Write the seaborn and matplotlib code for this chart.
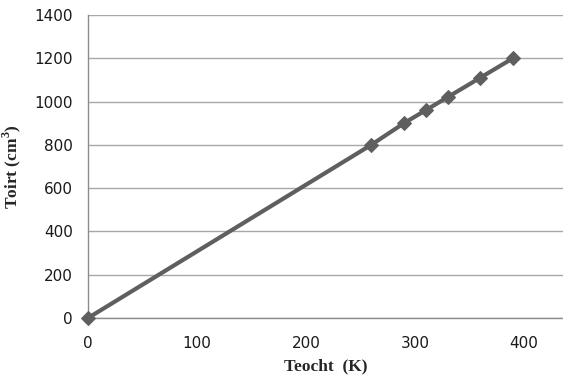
import pandas as pd
import seaborn as sns
import matplotlib.pyplot as plt

teocht = [0, 260, 290, 310, 330, 360, 390]
toirt = [0, 800, 900, 960, 1020, 1110, 1200]
x_ticks = [0, 100, 200, 300, 400]
y_ticks = [0, 200, 400, 600, 800, 1000, 1200, 1400]

df = pd.DataFrame({"Teocht": teocht, "Toirt": toirt})

sns.set_style("white")
plt.rcParams['font.family'] = ['DejaVu Sans']
plt.rcParams['mathtext.fontset'] = 'custom'
plt.rcParams['mathtext.rm'] = 'Liberation Serif'
plt.rcParams['mathtext.bf'] = 'Liberation Serif:bold'

fig = plt.figure(figsize=(5.63, 3.85), dpi=100)
ax = fig.add_axes([88 / 563, 1 - 318 / 385, 1 - 88 / 563, (318 - 15) / 385])

sns.lineplot(x="Teocht", y="Toirt", data=df, ax=ax, color="#5f5f5f",
             linewidth=3, marker="D", markersize=7, markeredgecolor="#5f5f5f",
             zorder=3, clip_on=False)

ax.set_xlim(0, 436)
ax.set_ylim(0, 1400)
ax.set_xticks(x_ticks)
ax.set_yticks(y_ticks)
ax.yaxis.grid(True, color="#a8a8a8", linewidth=1)
ax.xaxis.grid(False)
for s in ["top", "right"]:
    ax.spines[s].set_visible(False)
for s in ["left", "bottom"]:
    ax.spines[s].set_color("#8c8c8c")
    ax.spines[s].set_linewidth(1)
ax.tick_params(axis="both", direction="out", length=5, color="#8c8c8c",
               labelsize=11, labelcolor="#1a1a1a")
ax.tick_params(axis="x", pad=8)
ax.tick_params(axis="y", pad=6)

ax.set_xlabel("Teocht  (K)", family="Liberation Serif", fontweight="bold",
              fontsize=12.5, labelpad=5)
ax.set_ylabel("Toirt (cm$^{\\mathbf{3}}$)", family="Liberation Serif",
              fontweight="bold", fontsize=12.5, labelpad=8)

plt.savefig("out.png", dpi=100)
